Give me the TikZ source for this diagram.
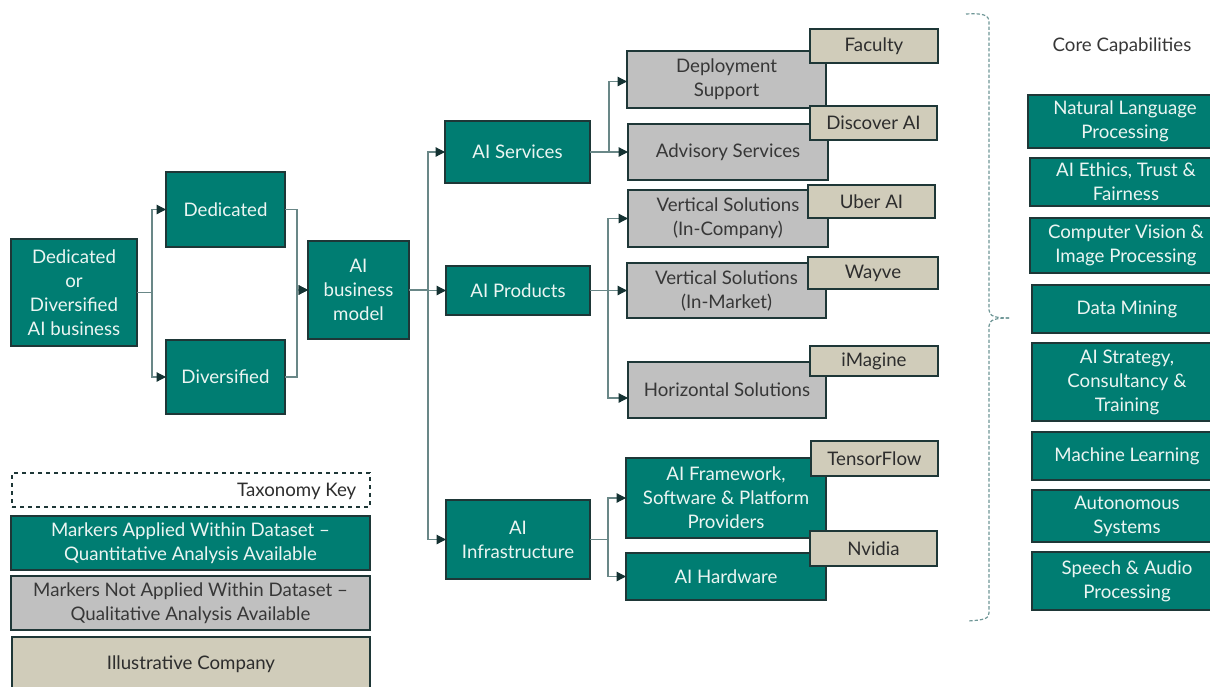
\documentclass[tikz,border=0pt]{standalone}
\usepackage{fontspec}
\setmainfont{Lato}
\usetikzlibrary{arrows.meta}
\definecolor{teal1}{RGB}{0,125,114}
\definecolor{bord}{RGB}{30,55,55}
\definecolor{grey1}{RGB}{192,192,192}
\definecolor{tan1}{RGB}{208,204,186}
\definecolor{linec}{RGB}{105,135,135}
\definecolor{arrowc}{RGB}{20,50,50}
\definecolor{tealtxt}{RGB}{235,245,242}
\definecolor{greytxt}{RGB}{55,55,55}
\definecolor{tantxt}{RGB}{45,45,45}
\definecolor{bracec}{RGB}{110,150,150}
\newcommand\bx[7]{\node[#1, minimum width={((#5)-(#3))*0.75pt}, minimum height={((#6)-(#4))*0.75pt}] (#2) at ({((#3)+(#5))/2},{((#4)+(#6))/2}) {#7};}
\tikzset{
  base/.style={draw=bord, line width=1.1pt, inner sep=0pt, outer sep=0pt, align=center},
  tealbox/.style={base, fill=teal1, text=tealtxt},
  greybox/.style={base, fill=grey1, text=greytxt},
  tanbox/.style={base, fill=tan1, text=tantxt},
  conn/.style={draw=linec, line width=0.9pt, -{Triangle[length=7pt,width=7pt,color=arrowc]}},
  bracel/.style={draw=bracec, line width=0.9pt, dashed, dash pattern=on 2.5pt off 1.5pt},
}
\begin{document}
\begin{tikzpicture}[x=0.75pt,y=-0.75pt, font=\fontsize{14}{18}\selectfont]
\useasboundingbox (0,0) rectangle (1210,686);
% left part
\bx{tealbox}{src}{11}{239}{137}{346}{Dedicated\\or\\Diversified\\AI business}
\bx{tealbox}{ded}{166}{172}{285}{247}{Dedicated}
\bx{tealbox}{div}{166}{340}{285}{414}{Diversified}
\bx{tealbox}{abm}{308}{241}{409}{339}{AI\\business\\model}
\draw[conn] (src.east) -- ++(15,0) |- (ded.west);
\draw[conn] (src.east) -- ++(15,0) |- (div.west);
\draw[conn] (ded.east) -- ++(12,0) |- (abm.west);
\draw[conn] (div.east) -- ++(12,0) |- (abm.west);
% second level
\bx{tealbox}{serv}{445}{121}{590}{183}{AI Services}
\bx{tealbox}{prod}{446}{266}{590}{315}{AI Products}
\bx{tealbox}{infra}{446}{500}{590}{579}{AI\\Infrastructure}
\draw[conn] (abm.east) -- ++(19,0) |- (serv.west);
\draw[conn] (abm.east) -- ++(19,0) |- (prod.west);
\draw[conn] (abm.east) -- ++(19,0) |- (infra.west);
% third level
\bx{greybox}{dep}{627}{51}{826}{108}{Deployment\\Support}
\bx{greybox}{adv}{628}{124}{828}{180}{Advisory Services}
\bx{greybox}{vic}{628}{190}{828}{247}{Vertical Solutions\\(In-Company)}
\bx{greybox}{vim}{627}{263}{826}{318}{Vertical Solutions\\(In-Market)}
\bx{greybox}{hor}{628}{362}{826}{418}{Horizontal Solutions}
\bx{tealbox}{fw}{626}{458}{826}{538}{AI Framework,\\Software \& Platform\\Providers}
\bx{tealbox}{hw}{626}{553}{826}{600}{AI Hardware}
\draw[conn] (serv.east) -- ++(19,0) |- ([yshift=-1.5pt]dep.west);
\draw[conn] (serv.east) -- ++(19,0) |- (serv.east -| adv.west);
\draw[conn] (prod.east) -- ++(18,0) |- (vic.west);
\draw[conn] (prod.east) -- ++(18,0) |- (prod.east -| vim.west);
\draw[conn] (prod.east) -- ++(18,0) |- ([yshift=-6pt]hor.west);
\draw[conn] (infra.east) -- ++(18,0) |- (fw.west);
\draw[conn] (infra.east) -- ++(18,0) |- (hw.west);
% companies
\bx{tanbox}{fac}{810}{29}{938}{63}{Faculty}
\bx{tanbox}{disc}{810}{106}{937}{140}{Discover AI}
\bx{tanbox}{uber}{808}{185}{935}{218}{Uber AI}
\bx{tanbox}{way}{808}{257}{938}{289}{Wayve}
\bx{tanbox}{imag}{810}{346}{938}{376}{iMagine}
\bx{tanbox}{tf}{811}{441}{938}{476}{TensorFlow}
\bx{tanbox}{nv}{810}{531}{937}{566}{Nvidia}
% legend
\node[draw=bord, dashed, line width=1pt, minimum width={358*0.75pt}, minimum height={34*0.75pt}, inner sep=0pt] (keyb) at (191,490) {};
\node[anchor=east, text=tantxt] (keyt) at (361,491) {Taxonomy Key};
\bx{tealbox}{leg1}{11}{516}{370}{570}{Markers Applied Within Dataset –\\Quantitative Analysis Available}
\bx{greybox}{leg2}{11}{576}{370}{630}{Markers Not Applied Within Dataset –\\Qualitative Analysis Available}
\bx{tanbox}{leg3}{12}{637}{370}{692}{Illustrative Company}
% brace
\draw[bracel] (966,14) .. controls (983,13) and (989,15) .. (989,22) -- (989,310) .. controls (989,316) and (995,318) .. (1009,318);
\draw[bracel] (1009,318) .. controls (995,318) and (989,320) .. (989,326) -- (989,613) .. controls (989,619) and (983,620) .. (968,621);
% core capabilities
\node[text=greytxt] (cc) at (1122,46) {Core Capabilities};
\bx{tealbox}{c1}{1028}{95}{1222}{148}{Natural Language\\Processing}
\bx{tealbox}{c2}{1030}{158}{1222}{206}{AI Ethics, Trust \&\\Fairness}
\bx{tealbox}{c3}{1030}{218}{1222}{273}{Computer Vision \&\\Image Processing}
\bx{tealbox}{c4}{1032}{285}{1222}{333}{Data Mining}
\bx{tealbox}{c5}{1032}{343}{1222}{421}{AI Strategy,\\Consultancy \&\\Training}
\bx{tealbox}{c6}{1032}{432}{1222}{480}{Machine Learning}
\bx{tealbox}{c7}{1032}{490}{1222}{542}{Autonomous\\Systems}
\bx{tealbox}{c8}{1032}{552}{1222}{610}{Speech \& Audio\\Processing}
\end{tikzpicture}
\end{document}
